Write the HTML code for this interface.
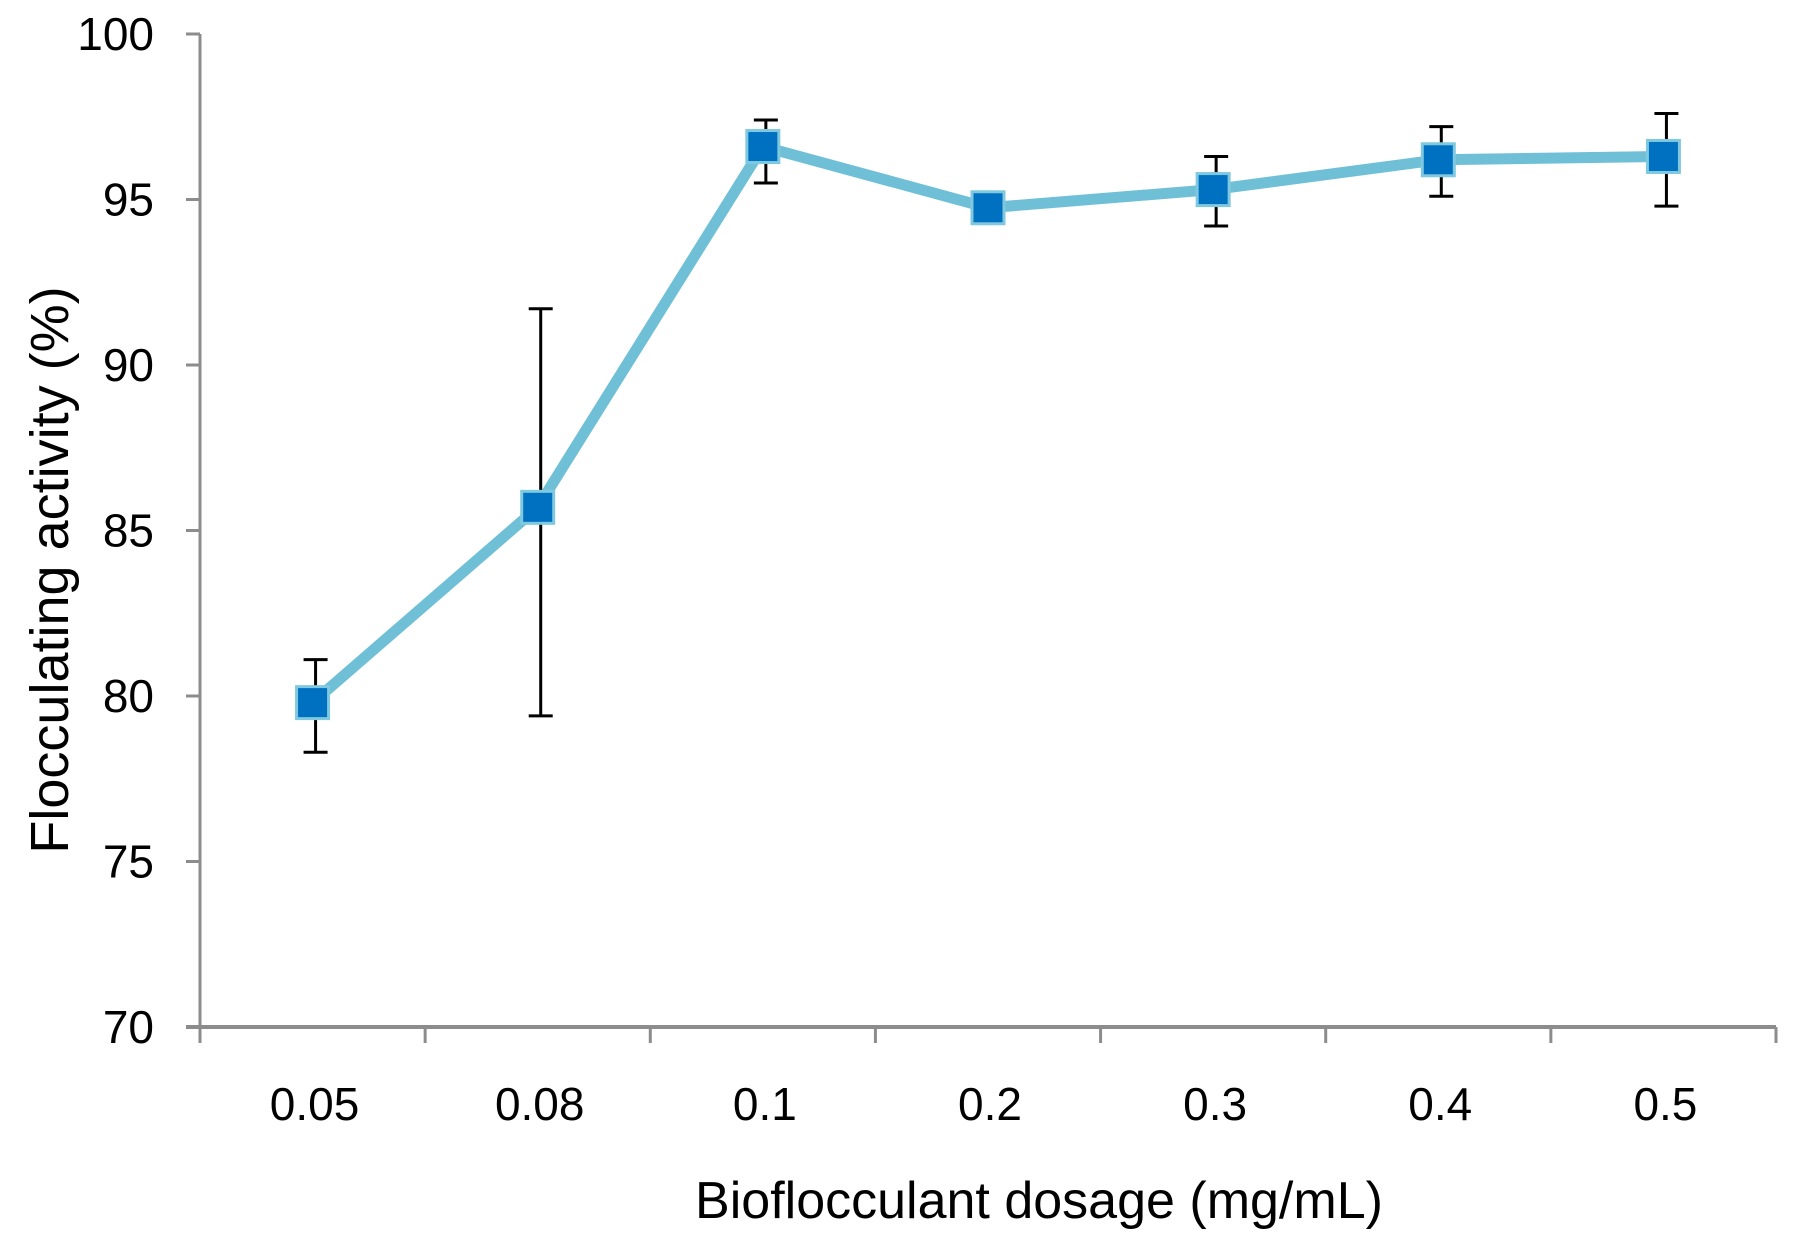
<!DOCTYPE html>
<html><head><meta charset="utf-8"><style>
html,body{margin:0;padding:0;background:#fff;}
svg{display:block;font-family:"Liberation Sans Narrow","Liberation Sans",sans-serif;}
</style></head><body>
<svg id="chart" width="1798" height="1244" viewBox="0 0 1798 1244"></svg>
<script>
const categories = ["0.05","0.08","0.1","0.2","0.3","0.4","0.5"];
const values = [79.8, 85.7, 96.6, 94.75, 95.3, 96.2, 96.3];
const errLow = [78.3, 79.4, 95.5, 94.75, 94.2, 95.1, 94.8];
const errHigh = [81.1, 91.7, 97.4, 94.75, 96.3, 97.2, 97.6];
const yTicks = [70, 75, 80, 85, 90, 95, 100];

const NS = "http://www.w3.org/2000/svg";
const svg = document.getElementById("chart");
const L = 200, R = 1776, T = 34, B = 1027;
const yMin = 70, yMax = 100;
const catW = (R - L) / categories.length;
const xPos = i => L + catW * (i + 0.5);
const yPos = v => B - (v - yMin) / (yMax - yMin) * (B - T);

function mk(tag, attrs, parent) {
  const e = document.createElementNS(NS, tag);
  for (const k in attrs) e.setAttribute(k, attrs[k]);
  (parent || svg).appendChild(e);
  return e;
}

const yAxis = mk("line", {x1: L, y1: T, x2: L, y2: B, stroke: "#8c8c8c", "stroke-width": 3});


const xAxis = mk("line", {x1: L - 14, y1: B, x2: R, y2: B, stroke: "#8c8c8c", "stroke-width": 4});



yTicks.forEach(v => {
  const y = yPos(v);
  const t = mk("line", {x1: L - 14, y1: y, x2: L, y2: y, stroke: "#8c8c8c", "stroke-width": 3});
  
  
  const lb = mk("text", {x: L - 46, y: y + 16, "text-anchor": "end", "font-size": 46, fill: "#000"});
  lb.textContent = v;
  
  
});

for (let i = 0; i <= categories.length; i++) {
  const x = L + catW * i;
  const t = mk("line", {x1: x, y1: B, x2: x, y2: B + 16, stroke: "#8c8c8c", "stroke-width": 3});
  
  
}
categories.forEach((c, i) => {
  const lb = mk("text", {x: xPos(i) + 2, y: 1120, "text-anchor": "middle", "font-size": 46, fill: "#000"});
  lb.textContent = c;
  
  
});

const xt = mk("text", {x: 1039, y: 1218, "text-anchor": "middle", "font-size": 52, fill: "#000"});
xt.textContent = "Bioflocculant dosage (mg/mL)";


const yt = mk("text", {x: 0, y: 0, "text-anchor": "middle", "font-size": 54, fill: "#000", transform: "translate(68,570) rotate(-90)"});
yt.textContent = "Flocculating activity (%)";



const pts = values.map((v, i) => xPos(i) + "," + yPos(v)).join(" ");
const line = mk("polyline", {points: pts, fill: "none", stroke: "#6fc0d6", "stroke-width": 11, "stroke-linejoin": "round"});



values.forEach((v, i) => {
  if (errHigh[i] === errLow[i]) return;
  const g = mk("g", {stroke: "#000", "stroke-width": 3});
  
  
  const x = xPos(i) + 3;
  mk("line", {x1: x, y1: yPos(errLow[i]), x2: x, y2: yPos(errHigh[i])}, g);
  mk("line", {x1: x - 12, y1: yPos(errLow[i]), x2: x + 12, y2: yPos(errLow[i])}, g);
  mk("line", {x1: x - 12, y1: yPos(errHigh[i]), x2: x + 12, y2: yPos(errHigh[i])}, g);
});

values.forEach((v, i) => {
  const m = mk("rect", {x: xPos(i) - 16, y: yPos(v) - 16, width: 32, height: 32, fill: "#0070c0", stroke: "#7fc9e0", "stroke-width": 3});
  
  
});
</script>
</body></html>
